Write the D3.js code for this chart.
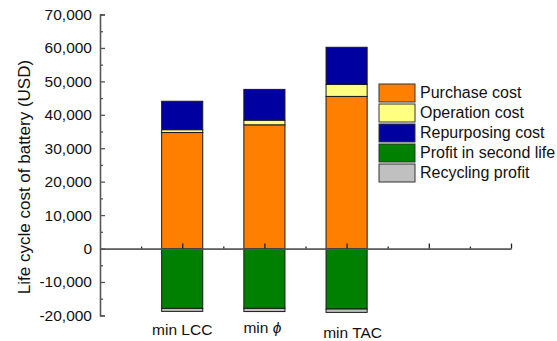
<!DOCTYPE html>
<html>
<head>
<meta charset="utf-8">
<script src="https://cdn.jsdelivr.net/npm/d3@7"></script>
<style>
  html, body { margin: 0; padding: 0; background: #fff; }
  svg { display: block; font-family: "Liberation Sans", Arial, sans-serif; }
</style>
</head>
<body>
<svg id="chart" width="557" height="341"></svg>
<script>
// ---- data ----
const categories = ["min LCC", "min \u03D5", "min TAC"];
const purchaseCost = [34700, 37000, 45500];
const operationCost = [850, 1400, 3600];
const repurposingCost = [8500, 9200, 11100];
const profitSecondLife = [-17900, -17900, -18100];
const recyclingProfit = [-900, -950, -1000];
const seriesNames = ["Purchase cost", "Operation cost", "Repurposing cost", "Profit in second life", "Recycling profit"];
const seriesColors = ["#FF8000", "#FFFF80", "#0000A0", "#008000", "#C0C0C0"];
const yTickValues = [-20000, -10000, 0, 10000, 20000, 30000, 40000, 50000, 60000, 70000];

// ---- layout ----
const svg = d3.select("#chart");
const x = d3.scaleLinear().domain([0, 5]).range([100, 511]);
const y = d3.scaleLinear().domain([-20000, 70000]).range([315.4, 14.5]);
const barW = x(0.5) - x(0);
const axisColor = "#555";

const locale = d3.formatLocale({decimal: ".", thousands: ",", grouping: [3], currency: ["$", ""], minus: "-"});
const fmt = locale.format(",");

// stacked segments
const segs = [];
categories.forEach((c, i) => {
  const pos = [purchaseCost[i], operationCost[i], repurposingCost[i]];
  let base = 0;
  pos.forEach((v, k) => { segs.push({i, k, y0: base, y1: base + v}); base += v; });
  let nb = 0;
  [profitSecondLife[i], recyclingProfit[i]].forEach((v, k) => { segs.push({i, k: k + 3, y0: nb, y1: nb + v}); nb += v; });
});

svg.append("g").selectAll("rect").data(segs).join("rect")
  .attr("x", d => x(d.i + 1) - barW / 2)
  .attr("width", barW)
  .attr("y", d => y(Math.max(d.y0, d.y1)))
  .attr("height", d => Math.abs(y(d.y0) - y(d.y1)))
  .attr("fill", d => seriesColors[d.k])
  .attr("stroke", "#1a1a1a")
  .attr("stroke-width", 1);

// y axis
const yMinor = svg.append("g").attr("transform", `translate(${x(0)},0)`)
  .call(d3.axisLeft(y).tickValues(d3.range(-15000, 70000, 10000)).tickSize(-3).tickFormat(""));
const yAxis = svg.append("g").attr("transform", `translate(${x(0)},0)`)
  .call(d3.axisLeft(y).tickValues(yTickValues).tickSize(-5).tickPadding(8).tickFormat(fmt));
[yMinor, yAxis].forEach(g => {
  g.select(".domain").attr("stroke", axisColor).attr("stroke-width", 1.3);
  g.selectAll(".tick line").attr("stroke", axisColor).attr("stroke-width", 1.3);
});
yAxis.selectAll(".tick text").attr("fill", "#111").style("font-size", "15.5px");

// x axis at zero
const xMinor = svg.append("g").attr("transform", `translate(0,${y(0)})`)
  .call(d3.axisBottom(x).tickValues([0.5, 1.5, 2.5, 3.5, 4.5]).tickSize(-2).tickFormat("").tickSizeOuter(0));
const xAxis = svg.append("g").attr("transform", `translate(0,${y(0)})`)
  .call(d3.axisBottom(x).tickValues([1, 2, 3, 4, 5]).tickSize(-5).tickFormat("").tickSizeOuter(0));
[xMinor, xAxis].forEach(g => {
  g.select(".domain").attr("stroke", axisColor).attr("stroke-width", 1.3);
  g.selectAll(".tick line").attr("stroke", "#222").attr("stroke-width", 1.3);
});

// category labels
const labelDx = [0, -2, 6];
const labelY = [335, 333, 337.5];
categories.forEach((c, i) => {
  const t = svg.append("text")
    .attr("x", x(i + 1) + labelDx[i])
    .attr("y", labelY[i])
    .attr("text-anchor", "middle")
    .style("font-size", "15.5px")
    .attr("fill", "#111");
  const parts = c.split(" ");
  t.append("tspan").text(parts[0] + " ");
  t.append("tspan").text(parts.slice(1).join(" "))
    .style("font-style", parts[1] === "\u03D5" ? "italic" : "normal");
});

// y label
svg.append("text")
  .attr("transform", `translate(30,177) rotate(-90)`)
  .attr("text-anchor", "middle")
  .style("font-size", "17px")
  .attr("fill", "#111")
  .text("Life cycle cost of battery (USD)");

// legend
const lg = svg.append("g").attr("transform", "translate(379,84)");
const items = lg.selectAll("g").data(seriesNames).join("g")
  .attr("transform", (d, i) => `translate(0,${i * 20})`);
items.append("rect").attr("width", 36).attr("height", 18)
  .attr("fill", (d, i) => seriesColors[i]).attr("stroke", "#333").attr("stroke-width", 1);
items.append("text").attr("x", 41).attr("y", 14)
  .style("font-size", "16px").attr("fill", "#111").text(d => d);
</script>
</body>
</html>
